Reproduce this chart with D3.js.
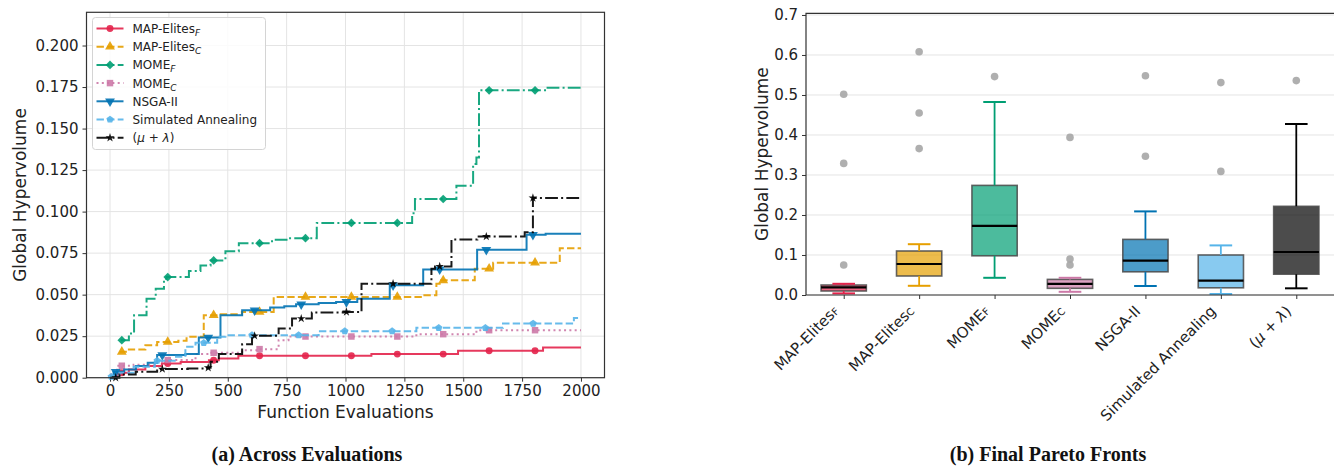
<!DOCTYPE html>
<html>
<head>
<meta charset="utf-8">
<script src="https://cdn.jsdelivr.net/npm/d3@7"></script>
<style>
  body { margin: 0; background: #fff; }
  text { font-family: "DejaVu Sans", sans-serif; fill: #222; }
  .cap { font-family: "Liberation Serif", serif; font-weight: bold; fill: #111; }
</style>
</head>
<body>
<svg id="chart" width="1334" height="468"></svg>
<script>
/* ---------- data ---------- */
const methods   = ["MAP-Elites_F", "MAP-Elites_C", "MOME_F", "MOME_C", "NSGA-II", "Simulated Annealing", "(mu+lambda)"];
const labelBase = ["MAP-Elites", "MAP-Elites", "MOME", "MOME", "NSGA-II", "Simulated Annealing", "(\u03bc + \u03bb)"];
const labelSub  = ["F", "C", "F", "C", "", "", ""];

const evalTicks = [0, 250, 500, 750, 1000, 1250, 1500, 1750, 2000];
const hvTicks   = [0, 0.025, 0.05, 0.075, 0.1, 0.125, 0.15, 0.175, 0.2];
const boxTicks  = [0, 0.1, 0.2, 0.3, 0.4, 0.5, 0.6, 0.7];

// global hypervolume across evaluations, [evaluations, hv] (step after)
const hvMapElitesF = [[0, 0.001], [30, 0.003], [80, 0.005], [150, 0.007], [220, 0.0085], [300, 0.0095], [420, 0.0105],
  [462, 0.0116], [545, 0.0132], [1110, 0.0142], [1478, 0.0162], [1839, 0.0182], [2000, 0.0182]];
const hvMapElitesC = [[40, 0.0156], [80, 0.017], [150, 0.0195], [200, 0.0215], [290, 0.0222], [325, 0.0246], [398, 0.0376],
  [470, 0.0382], [560, 0.0396], [695, 0.0486], [1330, 0.0496], [1386, 0.0566], [1400, 0.0586], [1549, 0.0656],
  [1627, 0.0692], [1910, 0.078], [2000, 0.078]];
const hvMomeF = [[45, 0.0226], [80, 0.0266], [102, 0.0376], [155, 0.0476], [194, 0.0536], [229, 0.0596], [240, 0.0606],
  [335, 0.0642], [384, 0.0676], [427, 0.0706], [490, 0.0762], [547, 0.081], [688, 0.083], [760, 0.084], [878, 0.0932],
  [1283, 0.099], [1295, 0.1076], [1471, 0.1156], [1542, 0.1286], [1556, 0.1326], [1567, 0.173], [1853, 0.1746], [2000, 0.1746]];
const hvMomeC = [[0, 0.002], [30, 0.0072], [100, 0.0078], [200, 0.0095], [240, 0.0106], [363, 0.0142], [420, 0.015],
  [561, 0.0166], [630, 0.0172], [716, 0.0226], [758, 0.0248], [1301, 0.0262], [1556, 0.0286], [2000, 0.0286]];
const hvNsga = [[0, 0.001], [15, 0.0036], [60, 0.005], [110, 0.007], [160, 0.009], [200, 0.0136], [320, 0.0142], [377, 0.0242],
  [469, 0.0376], [561, 0.0406], [680, 0.0422], [740, 0.043], [790, 0.0442], [886, 0.045], [960, 0.0456], [1050, 0.0476],
  [1188, 0.0556], [1330, 0.0652], [1559, 0.077], [1769, 0.086], [1850, 0.0866], [2000, 0.0866]];
const hvSa = [[0, 0.0006], [40, 0.003], [100, 0.0066], [190, 0.0102], [280, 0.0126], [320, 0.0186], [363, 0.021], [455, 0.0246],
  [490, 0.0256], [886, 0.028], [1301, 0.030], [1669, 0.0326], [1970, 0.036], [2000, 0.036]];
const hvMuLambda = [[0, 0.0], [40, 0.002], [109, 0.0036], [200, 0.0052], [330, 0.0056], [400, 0.006], [427, 0.0096],
  [462, 0.0142], [561, 0.0202], [603, 0.0252], [716, 0.0296], [773, 0.0356], [857, 0.0392], [990, 0.0396], [1068, 0.0566],
  [1365, 0.0656], [1380, 0.067], [1450, 0.0832], [1560, 0.085], [1761, 0.0876], [1796, 0.1082], [2000, 0.1082]];
const hvSeries = [hvMapElitesF, hvMapElitesC, hvMomeF, hvMomeC, hvNsga, hvSa, hvMuLambda];

// evaluations where markers are shown
const marksA = [50, 245, 440, 635, 830, 1025, 1220, 1415, 1610, 1805];
const marksB = [24, 222, 417, 614, 812, 1004, 1202, 1400, 1598, 1796];
const marksC = [5, 200, 398, 603, 801, 997, 1198, 1396, 1594, 1797];
const markSets = [marksA, marksA, marksA, marksA, marksB, marksC, marksB];

// final pareto fronts: box statistics
const boxLow    = [0.004, 0.023, 0.043, 0.008, 0.0225, 0.0025, 0.0167];
const boxQ1     = [0.010, 0.0475, 0.098, 0.0167, 0.058, 0.018, 0.052];
const boxMedian = [0.019, 0.0775, 0.173, 0.028, 0.086, 0.036, 0.1075];
const boxQ3     = [0.025, 0.110, 0.274, 0.039, 0.139, 0.100, 0.2217];
const boxHigh   = [0.028, 0.127, 0.4825, 0.043, 0.209, 0.124, 0.4275];
const boxOutliers = [[0.075, 0.329, 0.502], [0.366, 0.455, 0.608], [0.546], [0.075, 0.09, 0.394], [0.3467, 0.548], [0.309, 0.531], [0.536]];

/* ---------- styles ---------- */
const colors = ["#e3234b", "#e69f00", "#009e73", "#cc79a7", "#0072b2", "#56b4e9", "#000000"];
const dashes = [null, "7.4,3.2", "12.8,3.2,2,3.2", "2,3.3", null, "7.4,3.2", "12.8,3.2,2,3.2"];

const pentagon = {
  draw(ctx, size) {
    const r = Math.sqrt(size) * 0.62;
    for (let k = 0; k < 5; k++) {
      const a = -Math.PI / 2 + k * 2 * Math.PI / 5;
      k ? ctx.lineTo(r * Math.cos(a), r * Math.sin(a)) : ctx.moveTo(r * Math.cos(a), r * Math.sin(a));
    }
    ctx.closePath();
  }
};
const markers = [
  { type: d3.symbolCircle, size: 38, rot: 0 },
  { type: d3.symbolTriangle, size: 42, rot: 0 },
  { type: d3.symbolSquare, size: 38, rot: 45 },
  { type: d3.symbolSquare, size: 42, rot: 0 },
  { type: d3.symbolTriangle, size: 42, rot: 180 },
  { type: pentagon, size: 38, rot: 0 },
  { type: d3.symbolStar, size: 24, rot: 0 }
];

const svg = d3.select("#chart");

function addLabel(sel, i, subSize) {
  if (i === 6) {
    sel.append("tspan").text("(");
    sel.append("tspan").attr("font-style", "italic").text("\u03bc");
    sel.append("tspan").text(" + ");
    sel.append("tspan").attr("font-style", "italic").text("\u03bb");
    sel.append("tspan").text(")");
    return;
  }
  sel.append("tspan").text(labelBase[i]);
  if (labelSub[i]) sel.append("tspan").attr("font-size", subSize).attr("font-style", "italic").attr("dy", 3).text(labelSub[i]);
}

function styleAxis(g, size) {
  g.attr("font-family", null).attr("font-size", null);
  g.select(".domain").remove();
  g.selectAll(".tick line").attr("stroke", "#333").attr("stroke-width", 1);
  g.selectAll(".tick text").attr("font-size", size).style("fill", "#222");
}

/* ---------- (a) across evaluations ---------- */
const L = { x0: 86.5, x1: 604.5, y0: 12.3, y1: 377.7 };
const x = d3.scaleLinear().domain([-100, 2100]).range([L.x0, L.x1]);
const y = d3.scaleLinear().domain([0, 0.22]).range([L.y1, L.y0]);
const gL = svg.append("g");

gL.append("g").selectAll("line").data(evalTicks).join("line")
  .attr("x1", d => x(d)).attr("x2", d => x(d)).attr("y1", L.y0).attr("y2", L.y1)
  .attr("stroke", "#e4e4e4").attr("stroke-width", 1);
gL.append("g").selectAll("line").data(hvTicks).join("line")
  .attr("x1", L.x0).attr("x2", L.x1).attr("y1", d => y(d)).attr("y2", d => y(d))
  .attr("stroke", "#e4e4e4").attr("stroke-width", 1);

gL.append("g").attr("transform", `translate(0,${L.y1})`)
  .call(d3.axisBottom(x).tickValues(evalTicks).tickSize(4).tickPadding(4).tickFormat(d3.format("d")))
  .call(g => styleAxis(g, 15));
gL.append("g").attr("transform", `translate(${L.x0},0)`)
  .call(d3.axisLeft(y).tickValues(hvTicks).tickSize(4).tickPadding(4).tickFormat(d3.format(".3f")))
  .call(g => styleAxis(g, 15));

const line = d3.line().x(d => x(d[0])).y(d => y(d[1])).curve(d3.curveStepAfter);
const valueAt = (s, e) => s[Math.max(0, d3.bisector(d => d[0]).right(s, e) - 1)][1];

hvSeries.forEach((s, i) => {
  gL.append("path").datum(s).attr("d", line).attr("fill", "none")
    .attr("stroke", colors[i]).attr("stroke-width", 2).attr("opacity", 0.9)
    .attr("stroke-dasharray", dashes[i]);
  const sym = d3.symbol().type(markers[i].type).size(markers[i].size);
  gL.append("g").selectAll("path").data(markSets[i].filter(e => e >= s[0][0])).join("path")
    .attr("d", sym)
    .attr("transform", e => `translate(${x(e)},${y(valueAt(s, e))}) rotate(${markers[i].rot})`)
    .attr("fill", colors[i]).attr("opacity", 0.9);
});

gL.append("rect").attr("x", L.x0).attr("y", L.y0).attr("width", L.x1 - L.x0).attr("height", L.y1 - L.y0)
  .attr("fill", "none").attr("stroke", "#333").attr("stroke-width", 1.2);

gL.append("text").attr("x", (L.x0 + L.x1) / 2).attr("y", 418).attr("text-anchor", "middle")
  .attr("font-size", 17).text("Function Evaluations");
gL.append("text").attr("transform", `translate(26,${(L.y0 + L.y1) / 2}) rotate(-90)`).attr("text-anchor", "middle")
  .attr("font-size", 17).text("Global Hypervolume");

// legend
const leg = gL.append("g").attr("transform", "translate(92.5,17.5)");
leg.append("rect").attr("width", 173).attr("height", 132).attr("rx", 3)
  .attr("fill", "#fff").attr("fill-opacity", 0.85).attr("stroke", "#d4d4d4");
methods.forEach((m, i) => {
  const row = leg.append("g").attr("transform", `translate(0,${11 + i * 18.2})`);
  row.append("line").attr("x1", 4).attr("x2", 31).attr("stroke", colors[i]).attr("stroke-width", 2)
    .attr("opacity", 0.9).attr("stroke-dasharray", dashes[i]);
  row.append("path").attr("d", d3.symbol().type(markers[i].type).size(markers[i].size))
    .attr("transform", `translate(17.5,0) rotate(${markers[i].rot})`).attr("fill", colors[i]).attr("opacity", 0.9);
  const t = row.append("text").attr("x", 40).attr("y", 4.5).attr("font-size", 12);
  addLabel(t, i, 9);
});

/* ---------- (b) final pareto fronts ---------- */
const R = { x0: 806, x1: 1334, y0: 13.3, y1: 295 };
const xb = d3.scaleLinear().domain([0.5, 7.5]).range([R.x0, R.x1]);
const yb = d3.scaleLinear().domain([0, 0.7042]).range([R.y1, R.y0]);
const gR = svg.append("g");
const pos = methods.map((m, i) => i + 1);

gR.append("g").selectAll("line").data(boxTicks).join("line")
  .attr("x1", R.x0).attr("x2", R.x1).attr("y1", d => yb(d)).attr("y2", d => yb(d))
  .attr("stroke", "#e4e4e4").attr("stroke-width", 1);

gR.append("g").attr("transform", `translate(${R.x0},0)`)
  .call(d3.axisLeft(yb).tickValues(boxTicks).tickSize(4).tickPadding(4).tickFormat(d3.format(".1f")))
  .call(g => styleAxis(g, 15));
gR.append("g").attr("transform", `translate(0,${R.y1})`)
  .call(d3.axisBottom(xb).tickValues(pos).tickSize(4).tickFormat(""))
  .call(g => styleAxis(g, 15));
pos.forEach((p, i) => {
  const t = gR.append("text").attr("transform", `translate(${xb(p) - 4},${R.y1 + 17}) rotate(-45)`)
    .attr("text-anchor", "end").attr("font-size", 15);
  if (i === 6) { addLabel(t, i, 10); return; }
  t.append("tspan").text(labelBase[i]);
  if (labelSub[i]) t.append("tspan").attr("font-size", 10).text(labelSub[i]);
});

const bw = xb(1.3) - xb(1);   // half box width
const cw = xb(1.15) - xb(1);  // half cap width
pos.forEach((p, i) => {
  const cx = xb(p);
  const g = gR.append("g");
  g.append("rect").attr("x", cx - bw).attr("width", 2 * bw)
    .attr("y", yb(boxQ3[i])).attr("height", yb(boxQ1[i]) - yb(boxQ3[i]))
    .attr("fill", colors[i]).attr("fill-opacity", 0.7)
    .attr("stroke", "#4a4a4a").attr("stroke-opacity", 0.85).attr("stroke-width", 1.6);
  [[boxLow[i], boxQ1[i]], [boxQ3[i], boxHigh[i]]].forEach(([a, b]) => {
    g.append("line").attr("x1", cx).attr("x2", cx).attr("y1", yb(a)).attr("y2", yb(b))
      .attr("stroke", colors[i]).attr("stroke-width", 1.8);
  });
  [boxLow[i], boxHigh[i]].forEach(v => {
    g.append("line").attr("x1", cx - cw).attr("x2", cx + cw).attr("y1", yb(v)).attr("y2", yb(v))
      .attr("stroke", colors[i]).attr("stroke-width", 2);
  });
  g.append("line").attr("x1", cx - bw).attr("x2", cx + bw).attr("y1", yb(boxMedian[i])).attr("y2", yb(boxMedian[i]))
    .attr("stroke", "#000").attr("stroke-width", 2.2);
  g.selectAll("circle").data(boxOutliers[i]).join("circle")
    .attr("cx", cx).attr("cy", d => yb(d)).attr("r", 3.8)
    .attr("fill", "#a6a6a6").attr("opacity", 0.9);
});

gR.append("path").attr("d", `M${R.x1},${R.y0}H${R.x0}V${R.y1}H${R.x1}`)
  .attr("fill", "none").attr("stroke", "#333").attr("stroke-width", 1.2);

gR.append("text").attr("transform", `translate(768,${(R.y0 + R.y1) / 2}) rotate(-90)`).attr("text-anchor", "middle")
  .attr("font-size", 17).text("Global Hypervolume");

/* ---------- captions ---------- */
svg.append("text").attr("class", "cap").attr("x", 307).attr("y", 461).attr("text-anchor", "middle")
  .attr("font-size", 20).text("(a) Across Evaluations");
svg.append("text").attr("class", "cap").attr("x", 1048).attr("y", 461).attr("text-anchor", "middle")
  .attr("font-size", 20).text("(b) Final Pareto Fronts");
</script>
</body>
</html>
